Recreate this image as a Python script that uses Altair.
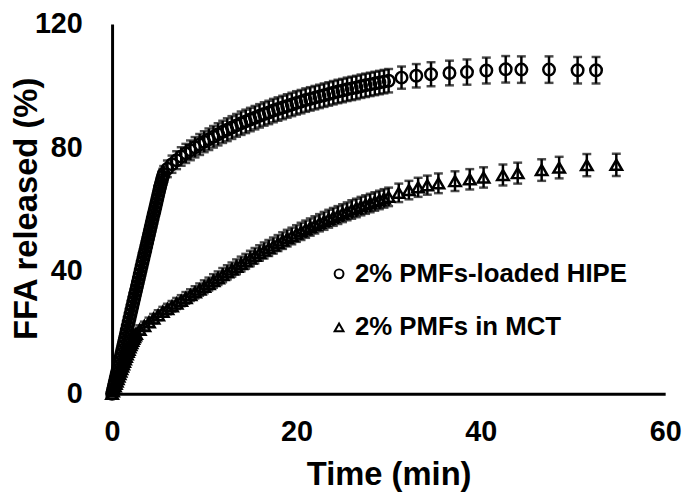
import altair as alt
import pandas as pd

series_names = ["2% PMFs-loaded HIPE", "2% PMFs in MCT"]

hipe_time = [0.0, 0.1, 0.2, 0.3, 0.4, 0.5, 0.6, 0.7, 0.8, 0.9,
             1.0, 1.1, 1.2, 1.3, 1.4, 1.5, 1.6, 1.7, 1.8, 1.9,
             2.0, 2.1, 2.2, 2.3, 2.4, 2.5, 2.6, 2.7, 2.8, 2.9,
             3.0, 3.1, 3.2, 3.3, 3.4, 3.5, 3.6, 3.7, 3.8, 3.9,
             4.0, 4.1, 4.2, 4.3, 4.4, 4.5, 4.6, 4.7, 4.8, 4.9,
             5.0, 5.1, 5.2, 5.3, 5.4, 5.5, 5.6,
             6.0, 6.5, 7.0, 7.5, 8.0, 8.5, 9.0, 9.5, 10.0, 10.5,
             11.0, 11.5, 12.0, 12.5, 13.0, 13.5, 14.0, 14.5, 15.0, 15.5,
             16.0, 16.5, 17.0, 17.5, 18.0, 18.5, 19.0, 19.5, 20.0, 20.5,
             21.0, 21.5, 22.0, 22.5, 23.0, 23.5, 24.0, 24.5, 25.0, 25.5,
             26.0, 26.5, 27.0, 27.5, 28.0, 28.5, 29.0, 29.5, 30.0,
             31.4, 33.0, 34.6, 36.6, 38.5, 40.6, 42.7, 44.4, 47.4, 50.5, 52.5]
hipe_ffa = [0.0, 1.3, 2.6, 3.9, 5.2, 6.5, 7.7, 9.0, 10.3, 11.6,
            12.9, 14.2, 15.5, 16.8, 18.1, 19.4, 20.6, 21.9, 23.2, 24.5,
            25.8, 27.1, 28.4, 29.7, 31.0, 32.3, 33.5, 34.8, 36.1, 37.4,
            38.7, 40.0, 41.3, 42.6, 43.9, 45.2, 46.4, 47.7, 49.0, 50.3,
            51.6, 52.9, 54.2, 55.5, 56.8, 58.1, 59.3, 60.6, 61.9, 63.2,
            64.5, 65.8, 67.0, 68.2, 69.4, 70.4, 71.3,
            73.0, 74.5, 75.8, 77.0, 78.0, 79.0, 80.0, 80.9, 81.8, 82.6,
            83.4, 84.2, 85.0, 85.7, 86.4, 87.1, 87.8, 88.4, 89.0, 89.6,
            90.2, 90.8, 91.3, 91.9, 92.4, 92.9, 93.4, 93.9, 94.4, 94.8,
            95.3, 95.7, 96.1, 96.5, 96.9, 97.3, 97.7, 98.1, 98.4, 98.8,
            99.1, 99.4, 99.8, 100.1, 100.4, 100.7, 101.0, 101.3, 101.6,
            102.6, 103.2, 103.7, 104.1, 104.4, 104.9, 105.3, 105.2, 105.2, 105.0, 105.0]
hipe_err = [0.8, 0.8, 0.8, 0.9, 0.9, 0.9, 1.0, 1.0, 1.0, 1.1,
            1.1, 1.1, 1.2, 1.2, 1.2, 1.3, 1.3, 1.3, 1.4, 1.4,
            1.4, 1.5, 1.5, 1.5, 1.6, 1.6, 1.6, 1.7, 1.7, 1.7,
            1.8, 1.8, 1.8, 1.9, 1.9, 1.9, 2.0, 2.0, 2.0, 2.1,
            2.1, 2.1, 2.2, 2.2, 2.2, 2.3, 2.3, 2.3, 2.4, 2.4,
            2.4, 2.5, 2.5, 2.5, 2.6, 2.6, 2.6,
            2.7, 2.8, 2.9, 3.0, 3.1, 3.2, 3.3, 3.4, 3.4, 3.5,
            3.5, 3.6, 3.6, 3.7, 3.7, 3.7, 3.8, 3.8, 3.8, 3.8,
            3.8, 3.8, 3.8, 3.8, 3.8, 3.8, 3.8, 3.8, 3.8, 3.8,
            3.8, 3.8, 3.8, 3.8, 3.8, 3.8, 3.8, 3.8, 3.8, 3.8,
            3.8, 3.8, 3.8, 3.8, 3.8, 3.8, 3.8, 3.8, 3.8,
            3.6, 3.8, 3.9, 4.0, 4.1, 4.2, 4.3, 4.3, 4.3, 4.3, 4.3]

mct_time = [0.0, 0.1, 0.2, 0.3, 0.4, 0.5, 0.6, 0.7, 0.8, 0.9,
            1.0, 1.1, 1.2, 1.3, 1.4, 1.5, 1.6, 1.7, 1.8, 1.9,
            2.0, 2.1, 2.2, 2.3, 2.4, 2.5, 2.6,
            3.0, 3.5, 4.0, 4.5, 5.0, 5.5, 6.0, 6.5, 7.0, 7.5,
            8.0, 8.5, 9.0, 9.5, 10.0, 10.5, 11.0, 11.5, 12.0, 12.5,
            13.0, 13.5, 14.0, 14.5, 15.0, 15.5, 16.0, 16.5, 17.0, 17.5,
            18.0, 18.5, 19.0, 19.5, 20.0, 20.5, 21.0, 21.5, 22.0, 22.5,
            23.0, 23.5, 24.0, 24.5, 25.0, 25.5, 26.0, 26.5, 27.0, 27.5,
            28.0, 28.5, 29.0, 29.5, 30.0,
            31.1, 32.2, 33.2, 34.2, 35.4, 37.2, 38.8, 40.3, 42.4, 44.0, 46.6, 48.5, 51.5, 54.7]
mct_ffa = [0.0, 0.8, 1.6, 2.4, 3.2, 4.0, 4.8, 5.6, 6.4, 7.2,
           8.0, 8.8, 9.6, 10.4, 11.2, 12.0, 12.8, 13.6, 14.3, 15.1,
           15.8, 16.5, 17.2, 17.8, 18.4, 19.0, 19.5,
           20.8, 22.0, 23.2, 24.4, 25.5, 26.6, 27.5, 28.4, 29.3, 30.2,
           31.1, 32.0, 32.9, 33.8, 34.7, 35.6, 36.6, 37.5, 38.5, 39.4,
           40.3, 41.2, 42.1, 43.0, 43.9, 44.8, 45.7, 46.5, 47.3, 48.1,
           48.9, 49.7, 50.5, 51.2, 52.0, 52.7, 53.4, 54.1, 54.8, 55.5,
           56.1, 56.8, 57.4, 58.0, 58.6, 59.2, 59.8, 60.3, 60.9, 61.4,
           61.9, 62.4, 62.9, 63.4, 63.9,
           65.2, 66.1, 67.0, 67.7, 68.3, 69.0, 69.6, 70.2, 71.0, 71.6, 72.6, 73.4, 74.2, 74.3]
mct_err = [0.5, 0.5, 0.5, 0.6, 0.6, 0.6, 0.7, 0.7, 0.7, 0.8,
           0.8, 0.8, 0.9, 0.9, 0.9, 1.0, 1.0, 1.0, 1.1, 1.1,
           1.1, 1.2, 1.2, 1.2, 1.3, 1.3, 1.3,
           1.4, 1.4, 1.5, 1.5, 1.6, 1.6, 1.7, 1.7, 1.8, 1.8,
           1.9, 1.9, 2.0, 2.0, 2.1, 2.1, 2.2, 2.2, 2.3, 2.3,
           2.3, 2.4, 2.4, 2.4, 2.5, 2.5, 2.5, 2.6, 2.6, 2.6,
           2.6, 2.7, 2.7, 2.7, 2.7, 2.8, 2.8, 2.8, 2.8, 2.8,
           2.9, 2.9, 2.9, 2.9, 2.9, 2.9, 3.0, 3.0, 3.0, 3.0,
           3.0, 3.0, 3.0, 3.0, 3.0,
           3.0, 3.0, 3.1, 3.1, 3.2, 3.2, 3.3, 3.3, 3.4, 3.4, 3.5, 3.5, 3.6, 3.6]

x_ticks = [0, 20, 40, 60]
y_ticks = [0, 40, 80, 120]

df = pd.concat([
    pd.DataFrame({"time": hipe_time, "ffa": hipe_ffa, "err": hipe_err, "series": series_names[0]}),
    pd.DataFrame({"time": mct_time, "ffa": mct_ffa, "err": mct_err, "series": series_names[1]}),
], ignore_index=True)

FONT = "Liberation Sans"

x_enc = alt.X("time:Q", scale=alt.Scale(domain=[0, 60], nice=False),
              axis=alt.Axis(values=x_ticks, title="Time (min)", labelPadding=24,
                            labelFlush=False, titleY=82, titleBaseline="middle"))
y_enc = alt.Y("ffa:Q", scale=alt.Scale(domain=[0, 120], nice=False),
              axis=alt.Axis(values=y_ticks, title="FFA released (%)", labelPadding=30,
                            titleX=-86, titleY=186, titleAngle=270, titleAlign="center",
                            titleBaseline="middle"))

base = alt.Chart(df).transform_calculate(lo="datum.ffa - datum.err", hi="datum.ffa + datum.err")

bars = base.mark_rule(color="black", strokeWidth=2.5).encode(
    x=x_enc, y=alt.Y("lo:Q"), y2="hi:Q")
cap_lo = base.mark_tick(color="black", orient="horizontal", size=9, thickness=2.5).encode(
    x="time:Q", y="lo:Q")
cap_hi = base.mark_tick(color="black", orient="horizontal", size=9, thickness=2.5).encode(
    x="time:Q", y="hi:Q")

points = base.mark_point(filled=False, color="black", strokeWidth=2.5, size=135, opacity=1).encode(
    x="time:Q", y=y_enc,
    shape=alt.Shape("series:N",
                    scale=alt.Scale(domain=series_names, range=["circle", "triangle-up"]),
                    legend=alt.Legend(title=None, orient="none", legendX=216, legendY=239,
                                      symbolSize=80, symbolStrokeWidth=2,
                                      symbolStrokeColor="black", labelFontSize=26,
                                      labelFont=FONT, labelFontWeight="bold",
                                      labelColor="black", rowPadding=28, labelOffset=3,
                                      labelLimit=0, padding=0)),
)

chart = alt.layer(bars, cap_lo, cap_hi, points).properties(
    width=558, height=373,
    autosize=alt.AutoSizeParams(type="none"),
    padding={"left": 105, "top": 14, "right": 20, "bottom": 100},
).configure_view(stroke=None).configure_axis(
    domainColor="black", domainWidth=3, ticks=False, tickSize=0, grid=False,
    labelFont=FONT, labelFontSize=29, labelFontWeight="bold", labelColor="black",
    titleFont=FONT, titleFontSize=33, titleFontWeight="bold", titleColor="black",
)

chart.save("out.html", embed_options={"renderer": "svg", "actions": False})
